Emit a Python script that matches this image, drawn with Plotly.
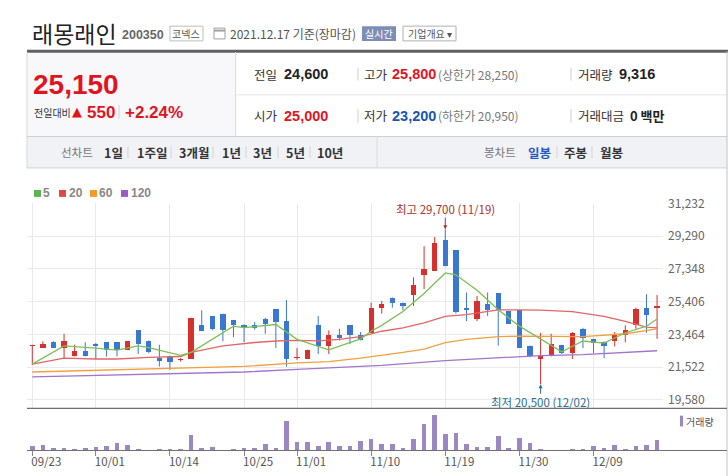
import plotly.graph_objects as go

W, H = 728, 476
KR = "Noto Sans CJK KR"
NUM = "Liberation Sans"

# ---------------- data ----------------
dates = ["2021-09-23","2021-09-24","2021-09-27","2021-09-28","2021-09-29","2021-09-30","2021-10-01",
 "2021-10-05","2021-10-06","2021-10-07","2021-10-08","2021-10-12","2021-10-13","2021-10-14","2021-10-15",
 "2021-10-18","2021-10-19","2021-10-20","2021-10-21","2021-10-22","2021-10-25","2021-10-26","2021-10-27",
 "2021-10-28","2021-10-29","2021-11-01","2021-11-02","2021-11-03","2021-11-04","2021-11-05","2021-11-08",
 "2021-11-09","2021-11-10","2021-11-11","2021-11-12","2021-11-15","2021-11-16","2021-11-17","2021-11-18",
 "2021-11-19","2021-11-22","2021-11-23","2021-11-24","2021-11-25","2021-11-26","2021-11-29","2021-11-30",
 "2021-12-01","2021-12-02","2021-12-03","2021-12-06","2021-12-07","2021-12-08","2021-12-09","2021-12-10",
 "2021-12-13","2021-12-14","2021-12-15","2021-12-16","2021-12-17"]

opens = [22750,22650,23000,22650,22150,22450,22900,23000,23000,22550,23700,23050,22050,22200,21950,
         22000,24000,24550,24700,24300,24000,24000,24400,24950,24250,22050,22000,24000,22750,23400,
         24000,23450,23550,25000,25650,25350,25800,27000,27250,29050,28450,25000,24400,25250,25900,
         24850,24900,22750,22000,22150,22850,22350,23800,23200,23000,23050,23400,24000,25050,25000]
highs = [22850,23050,23050,23500,22850,23000,22950,23000,23000,23050,23700,23100,22850,22200,22050,
         24450,24900,24550,24700,24300,24050,24200,24450,24950,25500,22650,22550,24550,23700,23800,
         24000,23600,25350,25450,25650,25350,26850,28700,29250,29700,28450,25950,25750,25950,25900,
         24850,24900,22800,23550,23500,22850,23600,23850,23200,23050,23600,24000,25050,25850,25800]
lows = [21650,22650,22650,22050,22150,22150,22000,22150,22150,22550,22300,22350,21550,21350,21850,
        22000,23650,23700,23050,23300,23000,23750,23500,22650,21550,21950,22000,22300,22300,23100,
        22900,23100,23550,24700,25050,24900,25150,26150,27250,27500,24700,24250,24250,24550,22800,
        24100,22650,22100,20500,22150,22300,22000,22650,22350,22050,22750,23000,23800,23550,23200]
closes = [22750,22900,22650,23050,22450,22200,22800,22550,22550,23050,22900,22400,21900,21850,21950,
          24450,23650,23800,23700,24000,23900,23850,24100,24200,22000,22050,22550,22750,23400,23250,
          23400,23100,25050,25250,25350,25150,26400,27350,28900,27550,24800,24900,25450,24900,24900,
          24100,22650,22200,22150,22900,22350,23550,23250,22950,22800,23500,23700,24950,24600,25150]
volumes = [4235,5080,1980,2540,1130,2540,3390,4235,6780,5080,1700,0,1700,1700,1700,
           13550,2540,3390,0,1700,2540,2540,5930,2540,25410,7620,7620,4235,7620,4235,
           4235,8470,10160,5930,5930,2540,10160,22870,30490,14400,15250,5930,3390,3390,12700,
           2540,11010,6780,1700,850,850,1700,1700,4235,2540,5080,1700,4235,5080,9316]

# moving averages (index into dates, value)
ma5_idx = [0,3,6,8,10,11,14,15,19,20,23,25,28,31,32,33,35,37,39,40,42,44,46,48,50,52,54,56,58,59]
ma5_val = [21700,22780,22650,22530,22780,22680,22220,22400,23950,23860,24050,23170,22550,23200,23650,24000,
           24820,25890,27110,27000,26080,24920,23950,23170,22430,23070,22940,23560,23950,24380]
ma20_idx = [0,3,6,8,11,14,15,18,21,23,25,27,29,31,33,35,37,39,41,44,46,48,51,54,56,58,59]
ma20_val = [21700,22050,22000,22000,22100,22150,22400,22780,22980,23070,23110,23080,23170,23330,23650,23850,
            24140,24530,24630,24920,24920,24900,24820,24530,24240,23890,23850]
ma60_idx = [0,7,14,20,25,28,31,33,35,37,39,41,44,46,48,52,56,58,59]
ma60_val = [21230,21330,21430,21560,21770,21850,22050,22200,22390,22590,22980,23170,23330,23360,23360,23330,
            23500,23700,23790]
ma120_idx = [0,14,20,25,31,33,39,48,52,59]
ma120_val = [20940,21130,21230,21380,21560,21620,21910,22200,22260,22490]

tick_dates = ["2021-09-23","2021-10-01","2021-10-14","2021-10-25","2021-11-01","2021-11-10","2021-11-19","2021-11-30","2021-12-09"]
tick_labels = ["09/23","10/01","10/14","10/25","11/01","11/10","11/19","11/30","12/09"]
price_ticks = [19580, 21522, 23464, 25406, 27348, 29290, 31232]

RED = "#d6312c"
BLUE = "#3a78d0"
MA_COLORS = {"5": "#7cbf55", "20": "#e06767", "60": "#f0a040", "120": "#a274cc"}
VOL = "#9a88c4"

# ---------------- traces ----------------
fig = go.Figure()

def candle_group(up):
    xs, bases, hts, wx, wy = [], [], [], [], []
    for d, o, h, l, c in zip(dates, opens, highs, lows, closes):
        if (c >= o) != up:
            continue
        xs.append(d)
        bases.append(min(o, c))
        hts.append(max(abs(c - o), 55))
        wx += [d, d, None]
        wy += [l, h, None]
    col = RED if up else BLUE
    fig.add_trace(go.Scatter(x=wx, y=wy, mode="lines", line=dict(color=col, width=1),
                             xaxis="x", yaxis="y", hoverinfo="skip", showlegend=False))
    fig.add_trace(go.Bar(x=xs, y=hts, base=bases, width=0.5, marker=dict(color=col, line=dict(width=0)),
                         xaxis="x", yaxis="y", showlegend=False))

candle_group(True)
candle_group(False)

for name, idx, vals in [("120", ma120_idx, ma120_val), ("60", ma60_idx, ma60_val),
                        ("20", ma20_idx, ma20_val), ("5", ma5_idx, ma5_val)]:
    fig.add_trace(go.Scatter(x=[dates[i] for i in idx], y=vals, mode="lines",
                             line=dict(color=MA_COLORS[name], width=1.3),
                             xaxis="x", yaxis="y", showlegend=False, name=name))

fig.add_trace(go.Bar(x=dates, y=volumes, width=0.44, marker=dict(color=VOL, line=dict(width=0)),
                     xaxis="x2", yaxis="y2", showlegend=False))

# ---------------- layout helpers ----------------
def px(x): return x / W
def py(y): return 1 - y / H

def T(x, y, s, size=12, color="#333", bold=False, family=KR, anchor="left"):
    return dict(xref="paper", yref="paper", x=px(x), y=py(y), text=(f"<b>{s}</b>" if bold else s),
                showarrow=False, xanchor=anchor, yanchor="middle", borderpad=0,
                font=dict(size=size, color=color, family=family))

def L(x0, y0, x1, y1, color, width=1):
    return dict(type="line", xref="paper", yref="paper", x0=px(x0), y0=py(y0), x1=px(x1), y1=py(y1),
                line=dict(color=color, width=width))

def R(x0, y0, x1, y1, fill="rgba(0,0,0,0)", line=None, layer="below"):
    return dict(type="rect", xref="paper", yref="paper", x0=px(x0), y0=py(y0), x1=px(x1), y1=py(y1),
                fillcolor=fill, line=dict(color=line or "rgba(0,0,0,0)", width=1 if line else 0), layer=layer)

shapes = [
    R(27, 44, 235, 130, fill="#f8f8fa"),
    R(27, 130, 727, 162, fill="#f1f2f6"),
    L(27, 43, 728, 43, "#606060", 3),
    L(27, 44, 27, 162, "#d8d8d8"),
    L(235.5, 44, 235.5, 130, "#dcdcdc"),
    L(236, 87.5, 727, 87.5, "#e6e6e6"),
    L(27, 130, 727, 130, "#cfcfcf"),
    L(27, 162, 727, 162, "#d2d2d2"),
    L(377, 130, 377, 162, "#dcdcdc"),
    L(727, 43, 727, 476, "#c4c4c4"),
    L(358, 60, 358, 73, "#d0d0d0"), L(571, 60, 571, 73, "#d0d0d0"),
    L(358, 102, 358, 116, "#d0d0d0"), L(571, 102, 571, 116, "#d0d0d0"),
    L(119, 98, 119, 112, "#d0d0d0"),
    # badges
    R(170, 17.5, 203, 32.5, fill="#ffffff", line="#bdbdbd", layer="above"),
    R(362, 17.5, 396, 32.5, fill="#7e8db6", layer="above"),
    R(403, 17.5, 456, 32.5, fill="#ffffff", line="#b0b0b0", layer="above"),
    # calendar icon
    R(214, 19.5, 225, 30.5, fill="#ffffff", line="#a0a0a0", layer="above"),
    L(214, 22, 225, 22, "#a0a0a0", 2),
    # panel lines
    L(27, 407, 727, 407, "#707070", 1.2),
    L(27, 450, 727, 450, "#707070", 1),
    # legend squares
    R(34, 184.5, 41, 191.5, fill="#5bb450", layer="above"),
    R(59, 184.5, 66, 191.5, fill="#e04848", layer="above"),
    R(90, 184.5, 97, 191.5, fill="#f39a2b", layer="above"),
    R(121, 184.5, 128, 191.5, fill="#9a5ac8", layer="above"),
    R(680, 414.5, 683, 425.5, fill=VOL, layer="above"),
]
for xs in [128, 171, 213, 246, 278, 310, 557, 592]:
    shapes.append(L(xs, 140, xs, 152, "#d3d3d3"))

ann = [
    T(31, 24, "래몽래인", 23, "#222"),
    T(121, 26, "200350", 12.5, "#666", bold=True, family=NUM),
    T(186.5, 25, "코넥스", 10, "#555", anchor="center"),
    T(229, 25, "2021.12.17 기준(장마감)", 12, "#555"),
    T(379, 25, "실시간", 10, "#ffffff", anchor="center"),
    T(429.5, 25, "기업개요 ▾", 10, "#555", anchor="center"),
    T(32, 76.5, "25,150", 28, "#e0141e", bold=True, family=NUM),
    T(33, 105, "전일대비", 10, "#333"),
    T(71, 104, "▲", 13, "#e0141e", family="DejaVu Sans"),
    T(86, 105, "550", 17, "#e0141e", bold=True, family=NUM),
    T(124, 105, "+2.24%", 17, "#e0141e", bold=True, family=NUM),
    T(253, 66.5, "전일", 12.5, "#333"),
    T(283, 66.5, "24,600", 14.5, "#222", bold=True, family=NUM),
    T(253, 109, "시가", 12.5, "#333"),
    T(283, 109, "25,000", 14.5, "#e0141e", bold=True, family=NUM),
    T(363, 66.5, "고가", 12.5, "#333"),
    T(391, 66.5, "25,800", 14.5, "#e0141e", bold=True, family=NUM),
    T(437, 66.5, "(상한가 28,250)", 12, "#777"),
    T(363, 109, "저가", 12.5, "#333"),
    T(391, 109, "23,200", 14.5, "#1a55b0", bold=True, family=NUM),
    T(437, 109, "(하한가 20,950)", 12, "#777"),
    T(577, 66.5, "거래량", 12.5, "#333"),
    T(618, 66.5, "9,316", 14.5, "#222", bold=True, family=NUM),
    T(577, 109, "거래대금", 12.5, "#333"),
    T(629, 109, "<b>0</b> <b>백만</b>", 13, "#222"),
    T(60, 146, "선차트", 11.5, "#777"),
    T(103, 146, "1일", 12.5, "#333", bold=True),
    T(136, 146, "1주일", 12.5, "#333", bold=True),
    T(178, 146, "3개월", 12.5, "#333", bold=True),
    T(221, 146, "1년", 12.5, "#333", bold=True),
    T(252, 146, "3년", 12.5, "#333", bold=True),
    T(285, 146, "5년", 12.5, "#333", bold=True),
    T(316, 146, "10년", 12.5, "#333", bold=True),
    T(483, 146, "봉차트", 11.5, "#777"),
    T(527, 146, "일봉", 12.5, "#1f5bbf", bold=True),
    T(563, 146, "주봉", 12.5, "#333", bold=True),
    T(599, 146, "월봉", 12.5, "#333", bold=True),
    T(42, 188, "5", 12, "#888", bold=True, family=NUM),
    T(68, 188, "20", 12, "#888", bold=True, family=NUM),
    T(98, 188, "60", 12, "#888", bold=True, family=NUM),
    T(130, 188, "120", 12, "#888", bold=True, family=NUM),
    T(685, 420, "거래량", 10, "#555"),
]

ihi = highs.index(max(highs))
ilo = lows.index(min(lows))
ann.append(dict(xref="x", yref="y", x=dates[ihi], y=highs[ihi], text=f"최고 {highs[ihi]:,} ({dates[ihi][5:7]}/{dates[ihi][8:]})",
                showarrow=True, arrowhead=2, arrowsize=0.8, arrowwidth=1, arrowcolor="#b03030", ax=0, ay=-20,
                font=dict(size=11.5, color="#a83232", family=KR), borderpad=0))
ann.append(dict(xref="x", yref="y", x=dates[ilo], y=lows[ilo], text=f"최저 {lows[ilo]:,} ({dates[ilo][5:7]}/{dates[ilo][8:]})",
                showarrow=True, arrowhead=2, arrowsize=0.8, arrowwidth=1, arrowcolor="#2e6d8e", ax=0, ay=18,
                font=dict(size=11.5, color="#2e6d8e", family=KR), borderpad=0))

xdom = [px(27), px(663)]
xr = [-0.5, 59.56]
fig.update_layout(
    width=W, height=H, autosize=False,
    margin=dict(l=0, r=0, t=0, b=0),
    paper_bgcolor="#ffffff", plot_bgcolor="#ffffff",
    barmode="overlay", bargap=0, showlegend=False, hovermode=False,
    font=dict(family=KR, color="#555"),
    xaxis=dict(domain=xdom, anchor="y", type="category", categoryorder="array", categoryarray=dates,
               range=xr, tickvals=tick_dates, showticklabels=False, ticks="", showgrid=True,
               gridcolor="#e9e9e9", gridwidth=1, zeroline=False, showline=False, fixedrange=True),
    yaxis=dict(domain=[py(407), py(198)], anchor="x", range=[19073, 31250], side="right",
               tickvals=price_ticks, ticktext=[f"{v:,}" for v in price_ticks],
               showgrid=True, gridcolor="#ebebeb", gridwidth=1, zeroline=False, showline=False, ticks="",
               tickfont=dict(size=12, color="#666", family=KR), ticklabelstandoff=4),
    xaxis2=dict(domain=xdom, anchor="y2", type="category", categoryorder="array", categoryarray=dates,
                range=xr, matches="x", tickvals=tick_dates, ticktext=tick_labels, ticks="outside",
                ticklen=5, tickcolor="#888", tickwidth=1, showgrid=False, zeroline=False, showline=False,
                tickfont=dict(size=11.5, color="#555", family=KR), ticklabelshift=14, ticklabelstandoff=-4),
    yaxis2=dict(domain=[py(450), py(407)], anchor="x2", range=[0, 36420], showgrid=False,
                showticklabels=False, zeroline=False, showline=False, ticks=""),
    shapes=shapes, annotations=ann,
)

fig.write_html("out.html", config={"displayModeBar": False, "staticPlot": True},
               post_script="document.body.style.margin='0';document.body.style.overflow='hidden';")
